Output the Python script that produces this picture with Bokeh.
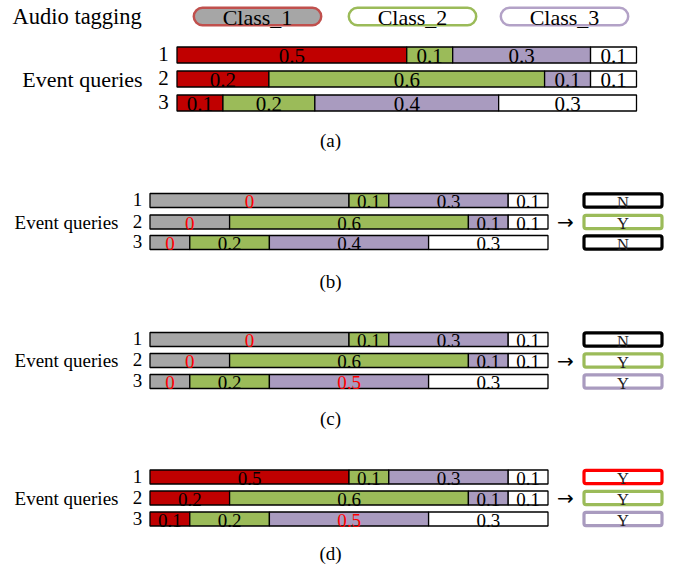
from bokeh.plotting import figure
from bokeh.models import Range1d, ColumnDataSource
from bokeh.core.properties import value
from bokeh.embed import file_html
from bokeh.resources import INLINE

# ---------------- data ----------------
classes = ["Class_1", "Class_2", "Class_3"]
queries = ["1", "2", "3"]
# probability of each event query for Class_1, Class_2, Class_3, no-event
probs_q1 = [0.5, 0.1, 0.3, 0.1]
probs_q2 = [0.2, 0.6, 0.1, 0.1]
probs_q3 = [0.1, 0.2, 0.4, 0.3]
probs = [probs_q1, probs_q2, probs_q3]

labels_a = [["0.5", "0.1", "0.3", "0.1"], ["0.2", "0.6", "0.1", "0.1"], ["0.1", "0.2", "0.4", "0.3"]]
labels_b = [["0", "0.1", "0.3", "0.1"], ["0", "0.6", "0.1", "0.1"], ["0", "0.2", "0.4", "0.3"]]
labels_c = [["0", "0.1", "0.3", "0.1"], ["0", "0.6", "0.1", "0.1"], ["0", "0.2", "0.5", "0.3"]]
labels_d = [["0.5", "0.1", "0.3", "0.1"], ["0.2", "0.6", "0.1", "0.1"], ["0.1", "0.2", "0.5", "0.3"]]
highlight_a = [[0, 0, 0, 0], [0, 0, 0, 0], [0, 0, 0, 0]]
highlight_b = [[1, 0, 0, 0], [1, 0, 0, 0], [1, 0, 0, 0]]
highlight_c = [[1, 0, 0, 0], [1, 0, 0, 0], [1, 0, 1, 0]]
highlight_d = [[0, 0, 0, 0], [0, 0, 0, 0], [0, 0, 1, 0]]
decisions_b = ["N", "Y", "N"]
decisions_c = ["N", "Y", "Y"]
decisions_d = ["Y", "Y", "Y"]
panel_names = ["(a)", "(b)", "(c)", "(d)"]

# ---------------- styles ----------------
FONT = value("Liberation Serif")
RED = "#C00000"
GREEN = "#9BBB59"
PURPLE = "#A99BBF"
GREY = "#A6A6A6"
WHITE = "#FFFFFF"
HL = "#FF0000"

W, H = 680, 565
p = figure(width=W, height=H, output_backend="svg", toolbar_location=None,
           x_range=Range1d(0, W), y_range=Range1d(H, 0),
           min_border=0, outline_line_color=None)
p.axis.visible = False
p.grid.visible = False
p.background_fill_color = "white"
p.border_fill_color = "white"


def txt(x, y, s, size, color="black", align="center", font=FONT):
    p.text(x=[x], y=[y], text=[s], text_font=font, text_font_size=size,
           text_color=color, text_align=align, text_baseline="middle")


# ---------------- header: audio tagging ----------------
txt(12, 16, "Audio tagging", "22.5px", align="left")
pill_left = [193.3, 348.3, 500.3]
pill_w = 127.4
pill_fill = [GREY, WHITE, WHITE]
pill_line = ["#C0504D", GREEN, "#B3A2C7"]
pill_src = ColumnDataSource(dict(
    left=pill_left, right=[l + pill_w for l in pill_left],
    top=[7.3] * 3, bottom=[24.7] * 3, fill=pill_fill, line=pill_line,
    x=[l + pill_w / 2 for l in pill_left], y=[16.5] * 3, text=classes))
p.quad(left="left", right="right", top="top", bottom="bottom", source=pill_src,
       fill_color="fill", line_color="line", line_width=2.5, border_radius=9)
p.text(x="x", y="y", text="text", source=pill_src, text_font=FONT,
       text_font_size="22px", text_align="center", text_baseline="middle")


def draw_panel(x0, scale, rows_y, bar_h, labels, highlight, first_color,
               eq_x, eq_size, num_x, num_size, val_size, cap_y, cap, decisions=None,
               box_colors=None):
    seg_colors = [first_color, GREEN, PURPLE, WHITE]
    L, R, T, B, F, LX, LY, LT, LC = [], [], [], [], [], [], [], [], []
    for qi, row in enumerate(probs):
        cum = 0.0
        for si, v in enumerate(row):
            left = x0 + cum * scale
            right = x0 + (cum + v) * scale
            cum += v
            L.append(left); R.append(right)
            T.append(rows_y[qi] - bar_h / 2); B.append(rows_y[qi] + bar_h / 2)
            F.append(seg_colors[si])
            LX.append((left + right) / 2); LY.append(rows_y[qi] + 1)
            LT.append(labels[qi][si])
            LC.append(HL if highlight[qi][si] else "black")
    src = ColumnDataSource(dict(left=L, right=R, top=T, bottom=B, fill=F,
                                x=LX, y=LY, text=LT, color=LC))
    p.quad(left="left", right="right", top="top", bottom="bottom", source=src,
           fill_color="fill", line_color="black", line_width=1.3)
    p.text(x="x", y="y", text="text", text_color="color", source=src,
           text_font=FONT, text_font_size=val_size, text_align="center",
           text_baseline="middle")
    # left labels
    txt(eq_x, rows_y[1], "Event queries", eq_size)
    for qi, q in enumerate(queries):
        txt(num_x, rows_y[qi] - 1, q, num_size)
    txt(330, cap_y, cap, "19px")
    if decisions is not None:
        txt(565, rows_y[1], "\u2192", "20px", font=value("DejaVu Sans"))
        bsrc = ColumnDataSource(dict(
            left=[583.5] * 3, right=[661.5] * 3,
            top=[y - 6.6 for y in rows_y], bottom=[y + 6.6 for y in rows_y],
            line=box_colors, x=[622.5] * 3, y=[y + 1.5 for y in rows_y],
            text=decisions))
        p.quad(left="left", right="right", top="top", bottom="bottom",
               source=bsrc, fill_color="white", line_color="line",
               line_width=3.2, border_radius=2)
        p.text(x="x", y="y", text="text", source=bsrc, text_font=FONT,
               text_font_size="16.5px", text_color="#222222",
               text_align="center", text_baseline="middle")


draw_panel(176.5, 459.5, [54.5, 78.5, 102.5], 16, labels_a, highlight_a, RED,
           82, "22px", 163, "21px", "21px", 140, panel_names[0])
draw_panel(149.5, 398, [200, 221.5, 242], 14, labels_b, highlight_b, GREY,
           66, "19px", 137, "19px", "19px", 281, panel_names[1],
           decisions_b, ["black", GREEN, "black"])
draw_panel(149.5, 398, [339, 360, 381], 14, labels_c, highlight_c, GREY,
           66, "19px", 137, "19px", "19px", 418, panel_names[2],
           decisions_c, ["black", GREEN, PURPLE])
draw_panel(149.5, 398, [476.5, 497.5, 518.5], 14, labels_d, highlight_d, RED,
           66, "19px", 137, "19px", "19px", 553, panel_names[3],
           decisions_d, [HL, GREEN, PURPLE])

open("out.html", "w").write(file_html(p, INLINE))
